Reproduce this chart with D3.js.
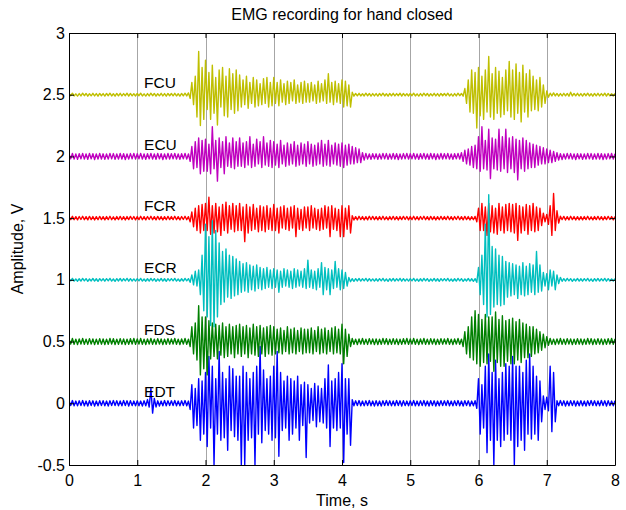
<!DOCTYPE html>
<html><head><meta charset="utf-8">
<script src="https://cdn.jsdelivr.net/npm/d3@7"></script>
<style>
body{margin:0;background:#fff}
svg{display:block}
text{font-family:"Liberation Sans",Arial,sans-serif;fill:#000}
</style>
</head><body>
<svg id="chart" width="626" height="510"></svg>
<script>
// ---------- data ----------
const titleText = "EMG recording for hand closed";
const xLabelText = "Time, s";
const yLabelText = "Amplitude, V";
const xTicks = [0,1,2,3,4,5,6,7,8];
const xTickLabels = ["0","1","2","3","4","5","6","7","8"];
const yTicks = [-0.5,0,0.5,1,1.5,2,2.5,3];
const yTickLabels = ["-0.5","0","0.5","1","1.5","2","2.5","3"];
const sampleStep = 0.025;              // seconds between samples (one row = 0.5 s)
const channels = ["EDT","FDS","FCR","ECR","ECU","FCU"];   // plotting order
const baselines = [0, 0.5, 1.5, 1, 2, 2.5];
const colors = ["#0000ff","#008000","#ff0000","#00bfbf","#bf00bf","#bfbf00"];

// signed excursion (V) from each channel's baseline, read every 0.025 s from 0 to 8 s
const EDT = [
.02,-.018,.022,-.02,.018,-.021,.02,-.019,.022,-.02,.018,-.022,.021,-.018,.02,-.022,.018,-.02,.021,-.019,
.021,-.02,.018,-.022,.02,-.019,.022,-.018,.02,-.021,.019,-.02,.022,-.018,.02,-.022,.021,-.019,.018,-.02,
.02,-.02,.018,-.022,.02,-.02,.03,-.03,.12,-.08,.04,-.03,.02,-.022,.018,-.02,.022,-.02,.02,-.018,
.02,-.018,.022,-.02,.018,-.021,.02,-.019,.022,-.02,.018,-.05,.15,-.2,.12,-.18,.2,-.3,.18,-.25,
.25,-.35,.38,-.2,.3,-.5,.2,-.25,.42,-.3,.25,-.28,.2,-.38,.3,-.22,.28,-.27,.22,-.3,
.22,-.5,.3,-.5,.25,-.3,.2,-.28,.25,-.5,.3,-.25,.46,-.32,.27,-.22,.2,-.25,.22,-.3,
.3,-.28,.42,-.43,.25,-.22,.18,-.2,.22,-.3,.2,-.25,.18,-.2,.22,-.3,.15,-.18,.17,-.44,
.15,-.16,.12,-.14,.16,-.19,.14,-.15,.12,-.16,.2,-.2,.31,-.35,.18,-.2,.2,-.22,.25,-.2,
.32,-.48,.2,-.25,.2,-.34,.03,-.02,.02,-.018,.022,-.02,.018,-.021,.02,-.019,.022,-.02,.018,-.022,
.021,-.02,.018,-.022,.02,-.019,.022,-.018,.02,-.021,.019,-.02,.022,-.018,.02,-.022,.021,-.019,.018,-.02,
.02,-.018,.022,-.02,.018,-.021,.02,-.019,.022,-.02,.018,-.022,.021,-.018,.02,-.022,.018,-.02,.021,-.019,
.02,-.018,.022,-.02,.018,-.021,.02,-.019,.022,-.02,.018,-.022,.021,-.018,.02,-.022,.018,-.02,.021,-.04,
.2,-.25,.15,-.2,.3,-.4,.4,-.3,.25,-.5,.35,-.3,.2,-.35,.25,-.3,.32,-.25,.3,-.3,
.38,-.5,.3,-.35,.3,-.3,.25,-.38,.35,-.25,.4,-.29,.3,-.25,.22,-.3,.18,-.15,.06,-.05,
.05,-.06,.3,-.23,.25,-.15,.02,-.02,.022,-.018,.02,-.022,.018,-.02,.021,-.019,.02,-.022,.018,-.02,
.021,-.02,.018,-.022,.02,-.019,.022,-.018,.02,-.021,.019,-.02,.022,-.018,.02,-.022,.021,-.019,.018,-.02,
.02];
const FDS = [
.022,-.02,.025,-.022,.02,-.024,.022,-.02,.025,-.022,.02,-.023,.024,-.02,.022,-.025,.02,-.022,.024,-.021,
.021,-.024,.02,-.022,.025,-.02,.023,-.024,.02,-.022,.024,-.021,.022,-.025,.02,-.022,.023,-.02,.025,-.022,
.022,-.02,.025,-.022,.02,-.024,.022,-.02,.025,-.022,.02,-.023,.024,-.02,.022,-.025,.02,-.022,.024,-.021,
.022,-.02,.025,-.022,.02,-.024,.022,-.02,.025,-.022,.02,-.04,.12,-.1,.15,-.15,.29,-.27,.2,-.22,
.2,-.27,.17,-.14,.15,-.12,.14,-.14,.13,-.11,.15,-.13,.12,-.12,.14,-.1,.12,-.13,.13,-.1,
.14,-.12,.12,-.1,.13,-.13,.11,-.1,.14,-.11,.12,-.12,.13,-.1,.11,-.12,.12,-.1,.13,-.11,
.12,-.1,.1,-.09,.11,-.1,.09,-.08,.12,-.1,.1,-.09,.11,-.1,.09,-.08,.11,-.1,.1,-.09,
.1,-.09,.11,-.1,.09,-.08,.12,-.1,.1,-.09,.11,-.1,.09,-.08,.11,-.1,.12,-.09,.1,-.1,
.14,-.18,.1,-.12,.06,-.04,.025,-.022,.02,-.024,.022,-.02,.025,-.022,.02,-.023,.024,-.02,.022,-.025,
.021,-.024,.02,-.022,.025,-.02,.023,-.024,.02,-.022,.024,-.021,.022,-.025,.02,-.022,.023,-.02,.025,-.022,
.022,-.02,.025,-.022,.02,-.024,.022,-.02,.025,-.022,.02,-.023,.024,-.02,.022,-.025,.02,-.022,.024,-.021,
.022,-.02,.025,-.022,.02,-.024,.022,-.02,.025,-.022,.02,-.04,.08,-.1,.12,-.13,.2,-.15,.25,-.18,
.22,-.2,.18,-.17,.22,-.18,.2,-.16,.2,-.24,.24,-.17,.18,-.2,.21,-.2,.17,-.16,.18,-.18,
.19,-.18,.16,-.15,.18,-.17,.15,-.13,.14,-.13,.12,-.12,.12,-.1,.1,-.09,.08,-.07,.06,-.05,
.04,-.03,.025,-.022,.02,-.024,.022,-.02,.025,-.022,.02,-.023,.024,-.02,.022,-.025,.02,-.022,.024,-.021,
.021,-.024,.02,-.022,.025,-.02,.023,-.024,.02,-.022,.024,-.021,.022,-.025,.02,-.022,.023,-.02,.025,-.022,
.022];
const FCR = [
.013,-.012,.015,-.013,.012,-.014,.013,-.011,.015,-.013,.012,-.014,.014,-.012,.013,-.015,.012,-.013,.014,-.012,
.012,-.014,.013,-.012,.015,-.013,.011,-.014,.013,-.012,.014,-.013,.012,-.015,.013,-.012,.014,-.011,.013,-.014,
.013,-.012,.015,-.013,.012,-.014,.013,-.011,.015,-.013,.012,-.014,.014,-.012,.013,-.015,.012,-.013,.014,-.012,
.013,-.012,.015,-.013,.012,-.014,.013,-.011,.015,-.013,.012,-.03,.05,-.07,.08,-.1,.1,-.12,.11,-.1,
.12,-.1,.17,-.13,.1,-.12,.12,-.11,.09,-.14,.11,-.1,.13,-.12,.1,-.09,.12,-.11,.1,-.1,
.12,-.1,.09,-.19,.11,-.12,.09,-.1,.11,-.09,.08,-.11,.1,-.1,.09,-.11,.1,-.09,.08,-.1,
.11,-.1,.08,-.12,.09,-.08,.1,-.09,.08,-.1,.09,-.08,.1,-.15,.08,-.09,.07,-.1,.09,-.08,
.09,-.1,.1,-.08,.08,-.09,.07,-.1,.08,-.09,.1,-.08,.09,-.15,.1,-.09,.08,-.1,.07,-.15,
.1,-.15,.08,-.09,.1,-.12,.02,-.015,.012,-.014,.015,-.012,.013,-.015,.012,-.014,.015,-.012,.014,-.013,
.012,-.014,.013,-.012,.015,-.013,.011,-.014,.013,-.012,.014,-.013,.012,-.015,.013,-.012,.014,-.011,.013,-.014,
.013,-.012,.015,-.013,.012,-.014,.013,-.011,.015,-.013,.012,-.014,.014,-.012,.013,-.015,.012,-.013,.014,-.012,
.013,-.012,.015,-.013,.012,-.014,.013,-.011,.015,-.013,.012,-.014,.014,-.012,.013,-.015,.012,-.013,.014,-.03,
.08,-.1,.12,-.1,.09,-.14,.12,-.11,.1,-.12,.08,-.13,.12,-.1,.09,-.12,.11,-.1,.12,-.11,
.11,-.12,.12,-.18,.1,-.12,.09,-.1,.11,-.13,.1,-.1,.12,-.11,.09,-.1,.08,-.06,.04,-.03,
.03,-.05,.1,-.14,.2,-.1,.06,-.04,.015,-.012,.014,-.015,.012,-.014,.015,-.012,.013,-.015,.012,-.014,
.012,-.014,.013,-.012,.015,-.013,.011,-.014,.013,-.012,.014,-.013,.012,-.015,.013,-.012,.014,-.011,.013,-.014,
.013];
const ECR = [
.01,-.008,.012,-.01,.007,-.011,.009,-.01,.012,-.008,.01,-.012,.008,-.009,.011,-.01,.009,-.012,.01,-.008,
.009,-.011,.01,-.008,.012,-.01,.008,-.012,.01,-.009,.011,-.01,.009,-.008,.012,-.011,.01,-.009,.008,-.01,
.01,-.008,.012,-.01,.007,-.011,.009,-.01,.012,-.008,.01,-.012,.008,-.009,.011,-.01,.009,-.012,.01,-.008,
.01,-.008,.012,-.01,.007,-.011,.009,-.01,.012,-.008,.01,-.02,.04,-.04,.07,-.05,.08,-.12,.2,-.25,
.45,-.3,.35,-.37,.48,-.38,.4,-.3,.3,-.2,.23,-.18,.25,-.14,.2,-.15,.19,-.13,.17,-.12,
.15,-.1,.13,-.09,.14,-.1,.12,-.08,.11,-.09,.12,-.07,.1,-.08,.09,-.07,.1,-.06,.08,-.07,
.09,-.06,.08,-.1,.07,-.06,.09,-.05,.08,-.06,.07,-.07,.09,-.06,.08,-.05,.07,-.06,.09,-.07,
.16,-.06,.08,-.07,.07,-.08,.09,-.06,.14,-.12,.1,-.08,.09,-.12,.08,-.07,.15,-.06,.09,-.08,
.08,-.07,.06,-.05,.02,-.015,.01,-.012,.01,-.009,.011,-.01,.009,-.008,.012,-.011,.01,-.009,.008,-.01,
.009,-.011,.01,-.008,.012,-.01,.008,-.012,.01,-.009,.011,-.01,.009,-.008,.012,-.011,.01,-.009,.008,-.01,
.01,-.008,.012,-.01,.007,-.011,.009,-.01,.012,-.008,.01,-.012,.008,-.009,.011,-.01,.009,-.012,.01,-.008,
.01,-.008,.012,-.01,.007,-.011,.009,-.01,.012,-.008,.01,-.012,.008,-.009,.011,-.01,.009,-.012,.01,-.02,
.1,-.12,.2,-.2,.45,-.3,.69,-.28,.27,-.22,.25,-.2,.2,-.21,.19,-.2,.15,-.14,.14,-.13,
.13,-.12,.12,-.15,.11,-.12,.14,-.13,.11,-.12,.13,-.1,.12,-.12,.23,-.1,.12,-.09,.06,-.05,
.05,-.08,.08,-.05,.07,-.08,.04,-.03,.02,-.012,.01,-.01,.012,-.008,.01,-.012,.008,-.009,.011,-.01,
.009,-.011,.01,-.008,.012,-.01,.008,-.012,.01,-.009,.011,-.01,.009,-.008,.012,-.011,.01,-.009,.008,-.01,
.01];
const ECU = [
.022,-.02,.025,-.022,.02,-.024,.022,-.02,.025,-.022,.02,-.023,.024,-.02,.022,-.025,.02,-.022,.024,-.021,
.021,-.024,.02,-.022,.025,-.02,.023,-.024,.02,-.022,.024,-.021,.022,-.025,.02,-.022,.023,-.02,.025,-.022,
.022,-.02,.025,-.022,.02,-.024,.022,-.02,.025,-.022,.02,-.023,.024,-.02,.022,-.025,.02,-.022,.024,-.021,
.022,-.02,.025,-.022,.02,-.024,.022,-.02,.025,-.022,.02,-.04,.08,-.1,.12,-.09,.15,-.14,.13,-.12,
.14,-.12,.1,-.14,.24,-.1,.13,-.2,.15,-.09,.12,-.14,.16,-.08,.11,-.09,.15,-.1,.12,-.08,
.15,-.08,.11,-.09,.12,-.07,.16,-.09,.1,-.08,.14,-.06,.12,-.09,.16,-.07,.11,-.08,.13,-.09,
.12,-.07,.1,-.09,.13,-.06,.09,-.08,.11,-.07,.1,-.06,.12,-.08,.09,-.07,.11,-.06,.1,-.08,
.12,-.06,.1,-.08,.09,-.07,.11,-.06,.13,-.08,.1,-.07,.13,-.08,.09,-.06,.11,-.07,.1,-.08,
.11,-.09,.09,-.07,.1,-.06,.08,-.06,.07,-.05,.06,-.05,.03,-.03,.025,-.022,.02,-.024,.022,-.02,
.021,-.024,.02,-.022,.025,-.02,.023,-.024,.02,-.022,.024,-.021,.022,-.025,.02,-.022,.023,-.02,.025,-.022,
.022,-.02,.025,-.022,.02,-.024,.022,-.02,.025,-.022,.02,-.023,.024,-.02,.022,-.025,.02,-.022,.024,-.021,
.022,-.02,.025,-.022,.02,-.024,.022,-.02,.025,-.022,.03,-.04,.05,-.06,.06,-.07,.08,-.09,.09,-.1,
.16,-.12,.24,-.1,.13,-.11,.22,-.18,.15,-.1,.14,-.11,.22,-.12,.16,-.1,.22,-.13,.15,-.1,
.16,-.13,.14,-.19,.13,-.1,.15,-.12,.13,-.1,.11,-.09,.1,-.09,.09,-.07,.08,-.06,.07,-.06,
.06,-.05,.05,-.05,.04,-.04,.03,-.03,.022,-.025,.02,-.022,.025,-.02,.023,-.022,.02,-.025,.022,-.02,
.021,-.024,.02,-.022,.025,-.02,.023,-.024,.02,-.022,.024,-.021,.022,-.025,.02,-.022,.023,-.02,.025,-.022,
.022];
const FCU = [
.01,-.008,.012,-.01,.007,-.011,.009,-.01,.012,-.008,.01,-.012,.008,-.009,.011,-.01,.009,-.012,.01,-.008,
.009,-.011,.01,-.008,.012,-.01,.008,-.012,.01,-.009,.011,-.01,.009,-.008,.012,-.011,.01,-.009,.008,-.01,
.01,-.008,.012,-.01,.007,-.011,.009,-.01,.012,-.008,.01,-.012,.008,-.009,.011,-.01,.009,-.012,.01,-.008,
.01,-.009,.011,-.01,.008,-.012,.01,-.009,.012,-.01,.015,-.03,.1,-.08,.15,-.18,.35,-.25,.22,-.2,
.28,-.12,.18,-.2,.24,-.15,.14,-.245,.2,-.1,.22,-.17,.15,-.18,.21,-.12,.17,-.15,.2,-.13,
.16,-.1,.12,-.08,.15,-.11,.1,-.07,.14,-.1,.12,-.09,.09,-.08,.13,-.07,.14,-.1,.1,-.09,
.14,-.07,.1,-.09,.12,-.06,.09,-.08,.11,-.07,.1,-.05,.12,-.07,.08,-.06,.1,-.07,.11,-.06,
.09,-.06,.1,-.05,.08,-.07,.11,-.06,.09,-.05,.12,-.07,.17,-.06,.1,-.08,.11,-.06,.09,-.07,
.12,-.1,.11,-.09,.08,-.1,.02,-.012,.01,-.009,.011,-.01,.008,-.01,.012,-.009,.01,-.011,.009,-.01,
.009,-.011,.01,-.008,.012,-.01,.008,-.012,.01,-.009,.011,-.01,.009,-.008,.012,-.011,.01,-.009,.008,-.01,
.01,-.008,.012,-.01,.007,-.011,.009,-.01,.012,-.008,.01,-.012,.008,-.009,.011,-.01,.009,-.012,.01,-.008,
.01,-.008,.012,-.01,.007,-.011,.009,-.01,.012,-.008,.01,-.012,.05,-.07,.12,-.14,.2,-.15,.18,-.27,
.22,-.17,.15,-.2,.2,-.14,.31,-.18,.17,-.2,.22,-.15,.19,-.18,.14,-.16,.2,-.13,.27,-.18,
.2,-.2,.25,-.15,.18,-.22,.24,-.14,.17,-.18,.2,-.13,.15,-.12,.12,-.13,.14,-.1,.08,-.07,
.03,-.02,.012,-.01,.015,-.01,.01,-.012,.009,-.01,.011,-.009,.01,-.012,.02,-.01,.01,-.009,.011,-.01,
.009,-.011,.01,-.008,.012,-.01,.008,-.012,.01,-.009,.011,-.01,.009,-.008,.012,-.011,.01,-.009,.008,-.01,
.01];
const signals = [EDT, FDS, FCR, ECR, ECU, FCU];

// ---------- layout ----------
const margin = {left:69, right:11, top:33, bottom:45};
const W = 626, H = 510;
const svg = d3.select("#chart");
const x = d3.scaleLinear().domain([0,8]).range([margin.left, W - margin.right]);
const y = d3.scaleLinear().domain([-0.5,3]).range([H - margin.bottom, margin.top]);
const fs = 16;

// grid (vertical only)
svg.append("g").selectAll("line").data(xTicks.slice(1,-1)).join("line")
  .attr("x1", d => Math.round(x(d)) + 0.5).attr("x2", d => Math.round(x(d)) + 0.5)
  .attr("y1", y(3)).attr("y2", y(-0.5))
  .attr("stroke", "#a6a6a6").attr("stroke-width", 1);

// clip
svg.append("clipPath").attr("id","clip").append("rect")
  .attr("x", x(0)).attr("y", y(3)).attr("width", x(8)-x(0)).attr("height", y(-0.5)-y(3));

const traces = svg.append("g").attr("clip-path","url(#clip)");
signals.forEach((sig, k) => {
  const line = d3.line()
    .x((d, i) => x(i * sampleStep))
    .y(d => y(baselines[k] + d));
  traces.append("path").datum(sig)
    .attr("d", line)
    .attr("fill", "none")
    .attr("stroke", colors[k])
    .attr("stroke-width", 1.4)
    .attr("stroke-linejoin", "round");
});

// channel labels
svg.append("g").selectAll("text").data(channels).join("text")
  .attr("x", x(1.1))
  .attr("y", (d, k) => y(baselines[k] + 0.1))
  .attr("dy", "0.36em")
  .attr("font-size", 15.5)
  .text(d => d);

// axes
function styleAxis(g){
  g.selectAll(".domain").attr("stroke","#000").attr("stroke-width",1);
  g.selectAll(".tick line").attr("stroke","#000").attr("stroke-width",1);
  g.selectAll(".tick text").attr("font-size",fs).attr("font-family",'"Liberation Sans",Arial,sans-serif').attr("fill","#000");
}
const axBottom = svg.append("g").attr("transform",`translate(0,${y(-0.5)})`)
  .call(d3.axisBottom(x).tickValues(xTicks).tickFormat((d,i)=>xTickLabels[i]).tickSizeInner(-5).tickSizeOuter(0).tickPadding(10));
styleAxis(axBottom);
const axTop = svg.append("g").attr("transform",`translate(0,${y(3)})`)
  .call(d3.axisTop(x).tickValues(xTicks).tickFormat("").tickSizeInner(-5).tickSizeOuter(0));
styleAxis(axTop);
const axLeft = svg.append("g").attr("transform",`translate(${x(0)},0)`)
  .call(d3.axisLeft(y).tickValues(yTicks).tickFormat((d,i)=>yTickLabels[i]).tickSizeInner(-5).tickSizeOuter(0).tickPadding(4));
styleAxis(axLeft);
const axRight = svg.append("g").attr("transform",`translate(${x(8)},0)`)
  .call(d3.axisRight(y).tickValues(yTicks).tickFormat("").tickSizeInner(-5).tickSizeOuter(0));
styleAxis(axRight);

// titles
svg.append("text").attr("x", (x(0)+x(8))/2).attr("y", 20)
  .attr("text-anchor","middle").attr("font-size", fs).text(titleText);
svg.append("text").attr("x", (x(0)+x(8))/2).attr("y", 506)
  .attr("text-anchor","middle").attr("font-size", fs).text(xLabelText);
svg.append("text").attr("transform", `translate(23,${(y(3)+y(-0.5))/2}) rotate(-90)`)
  .attr("text-anchor","middle").attr("font-size", fs).text(yLabelText);
</script>
</body></html>
